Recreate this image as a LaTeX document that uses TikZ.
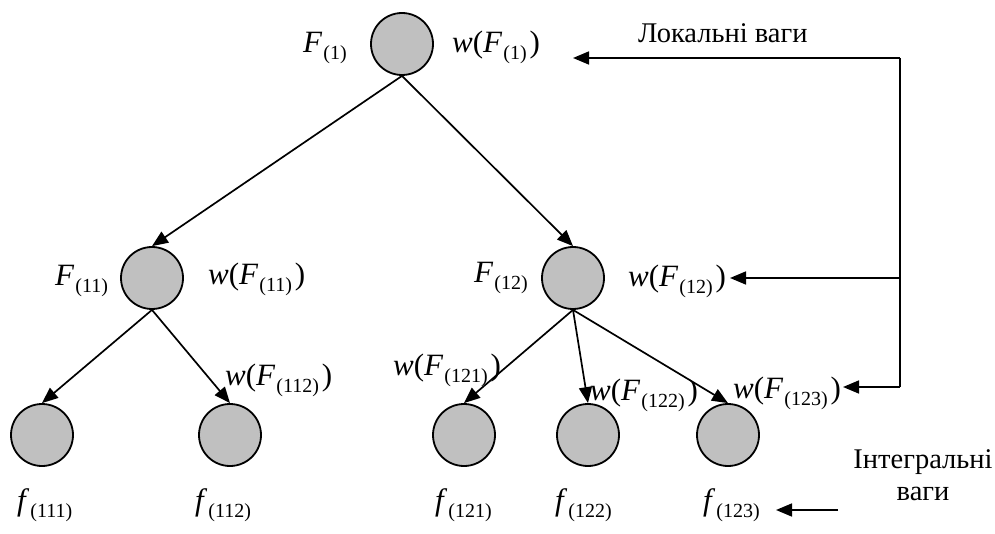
\documentclass[tikz,border=0pt]{standalone}
\usepackage{fontspec}
\setmainfont{Liberation Serif}
\usetikzlibrary{arrows.meta}
\definecolor{nodegray}{HTML}{C0C0C0}
\newcommand{\sbx}[1]{\raisebox{-7pt}{\fontsize{20}{20}\selectfont(#1)}}
\newcommand{\FF}[1]{\textit{F}\kern1pt\sbx{#1}}
\newcommand{\wF}[1]{\textit{w}(\FF{#1}\kern3pt)}
\newcommand{\ff}[1]{\textit{f}\kern1pt\sbx{#1}}
\begin{document}
\begin{tikzpicture}[x=1pt,y=-1pt,
  vert/.style={circle, draw, line width=1.8pt, fill=nodegray, minimum size=62pt, inner sep=0pt},
  lbl/.style={font=\fontsize{31}{34}\selectfont, inner sep=0pt, anchor=base west},
  cyr/.style={font=\fontsize{28.5}{32}\selectfont, inner sep=0pt},
  arr/.style={line width=1.7pt, -{Triangle[length=16pt,width=13pt]}},
  ln/.style={line width=1.7pt}]
\useasboundingbox (0,0) rectangle (995,534);
% circles
\node[vert] (r) at (402,44) {};
\node[vert] (a) at (152,278) {};
\node[vert] (b) at (573,278) {};
\node[vert] (a1) at (42,435) {};
\node[vert] (a2) at (230,435) {};
\node[vert] (b1) at (464,435) {};
\node[vert] (b2) at (588,435) {};
\node[vert] (b3) at (728,435) {};
% tree arrows
\draw[arr] (r.south) -- (a.north);
\draw[arr] (r.south) -- (b.north);
\draw[arr] (a.south) -- (a1.north);
\draw[arr] (a.south) -- (a2.north);
\draw[arr] (b.south) -- (b1.north);
\draw[arr] (b.south) -- (b2.north);
\draw[arr] (b.south) -- (b3.north);
% labels
\node[lbl] (lF1) at (303,53) {\FF{1}};
\node[lbl] (lw1) at (452,53) {\wF{1}};
\node[lbl] (lF11) at (55,286) {\FF{11}};
\node[lbl] (lw11) at (208,285) {\wF{11}};
\node[lbl] (lF12) at (474,283) {\FF{12}};
\node[lbl] (lw12) at (628,287) {\wF{12}};
\node[lbl] (lw112) at (225,385) {\wF{112}};
\node[lbl] (lw121) at (393,375) {\wF{121}};
\node[lbl] (lw122) at (590,400) {\wF{122}};
\node[lbl] (lw123) at (733,398) {\wF{123}};
\node[lbl] (f111) at (17,510) {\ff{111}};
\node[lbl] (f112) at (195,510) {\ff{112}};
\node[lbl] (f121) at (435,510) {\ff{121}};
\node[lbl] (f122) at (555,510) {\ff{122}};
\node[lbl] (f123) at (703,510) {\ff{123}};
% local weights bracket
\node[cyr, anchor=base west] (loc) at (638,43) {Локальні ваги};
\coordinate (t) at (900,58);
\coordinate (m) at (900,278);
\coordinate (bt) at (900,387);
\coordinate (tt) at (573,58);
\coordinate (mm) at (730,278);
\coordinate (bb) at (843,387);
\draw[ln] (t) -- (bt);
\draw[arr] (t) -- (tt);
\draw[arr] (m) -- (mm);
\draw[arr] (bt) -- (bb);
% integral weights
\node[cyr, anchor=base, align=center] (int) at (923,500) {Інтегральні\\ваги};
\coordinate (bs) at (838,510);
\coordinate (be) at (776,510);
\draw[arr] (bs) -- (be);
\end{tikzpicture}
\end{document}
